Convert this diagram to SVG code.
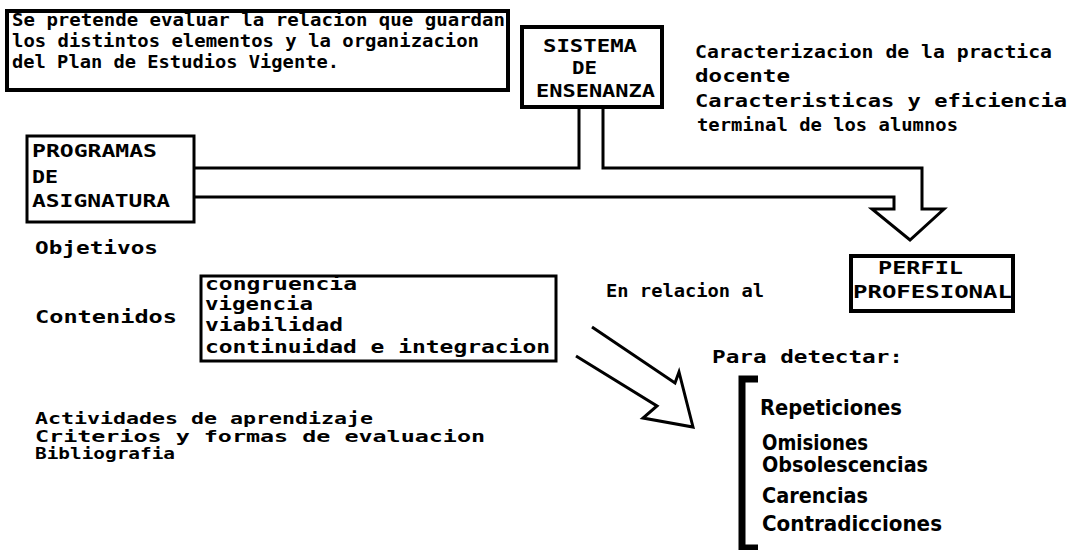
<svg xmlns="http://www.w3.org/2000/svg" width="1070" height="550" viewBox="0 0 1070 550">
<style>
.bx{fill:none;stroke:#000;stroke-width:4}
.bt{fill:none;stroke:#000;stroke-width:3}
.ln{fill:none;stroke:#000;stroke-width:3;stroke-linejoin:miter}
.t{font-family:"DejaVu Sans Mono","Liberation Mono",monospace;font-weight:bold;font-size:18px;fill:#000}
.w{font-family:"DejaVu Sans Mono","Liberation Mono",monospace;font-weight:bold;font-size:17px;fill:#000}
.a{font-family:"DejaVu Sans Mono","Liberation Mono",monospace;font-weight:bold;font-size:16px;fill:#000}
.c{font-family:"DejaVu Sans Condensed","DejaVu Sans",sans-serif;font-stretch:condensed;font-weight:bold;font-size:21px;fill:#000}
</style>
<rect width="1070" height="550" fill="#fff"/>
<g id="intro">
<rect class="bx" x="7" y="11" width="501" height="79"/>
<text class="t" x="12" y="26" textLength="493" lengthAdjust="spacingAndGlyphs">Se pretende evaluar la relacion que guardan</text>
<text class="t" x="12" y="47" textLength="467" lengthAdjust="spacingAndGlyphs">los distintos elementos y la organizacion</text>
<text class="t" x="12" y="68" textLength="327" lengthAdjust="spacingAndGlyphs">del Plan de Estudios Vigente.</text>
</g>
<g id="sistema">
<rect class="bx" x="522" y="27" width="140" height="80"/>
<text class="t" x="543" y="52" textLength="94" lengthAdjust="spacingAndGlyphs">SISTEMA</text>
<text class="t" x="572" y="74" textLength="25" lengthAdjust="spacingAndGlyphs">DE</text>
<text class="t" x="536" y="97" textLength="119" lengthAdjust="spacingAndGlyphs">ENSENANZA</text>
</g>
<g id="caracterizacion">
<text class="t" x="695" y="58" textLength="357" lengthAdjust="spacingAndGlyphs">Caracterizacion de la practica</text>
<text class="t" x="695" y="82" textLength="95" lengthAdjust="spacingAndGlyphs">docente</text>
<text class="t" x="695" y="107" textLength="372" lengthAdjust="spacingAndGlyphs">Caracteristicas y eficiencia</text>
<text class="t" x="697" y="131" textLength="261" lengthAdjust="spacingAndGlyphs">terminal de los alumnos</text>
</g>
<g id="programas">
<rect class="bt" x="27" y="136" width="167" height="86"/>
<text class="t" x="32" y="157" textLength="125" lengthAdjust="spacingAndGlyphs">PROGRAMAS</text>
<text class="t" x="32" y="183" textLength="26" lengthAdjust="spacingAndGlyphs">DE</text>
<text class="t" x="32" y="207" textLength="138" lengthAdjust="spacingAndGlyphs">ASIGNATURA</text>
</g>
<g id="perfil">
<rect class="bx" x="851" y="256" width="162" height="55"/>
<text class="t" x="878" y="274" textLength="85" lengthAdjust="spacingAndGlyphs">PERFIL</text>
<text class="t" x="853" y="298" textLength="159" lengthAdjust="spacingAndGlyphs">PROFESIONAL</text>
</g>
<g id="aspectos">
<text class="w" x="35" y="254" textLength="123" lengthAdjust="spacingAndGlyphs">Objetivos</text>
<text class="w" x="35" y="323" textLength="142" lengthAdjust="spacingAndGlyphs">Contenidos</text>
<text class="a" x="35" y="424" textLength="338" lengthAdjust="spacingAndGlyphs">Actividades de aprendizaje</text>
<text class="a" x="35" y="442" textLength="450" lengthAdjust="spacingAndGlyphs">Criterios y formas de evaluacion</text>
<text class="a" x="35" y="459" textLength="140" lengthAdjust="spacingAndGlyphs">Bibliografia</text>
</g>
<g id="contenidos">
<rect class="bt" x="201" y="276" width="355" height="85"/>
<text class="w" x="205" y="290" textLength="152" lengthAdjust="spacingAndGlyphs">congruencia</text>
<text class="w" x="205" y="310" textLength="108" lengthAdjust="spacingAndGlyphs">vigencia</text>
<text class="w" x="205" y="331" textLength="138" lengthAdjust="spacingAndGlyphs">viabilidad</text>
<text class="w" x="205" y="353" textLength="345" lengthAdjust="spacingAndGlyphs">continuidad e integracion</text>
</g>
<g id="relacion">
<text class="t" x="606" y="297" font-size="16" textLength="158" lengthAdjust="spacingAndGlyphs">En relacion al</text>
</g>
<g id="detectar">
<text class="w" x="712" y="363" textLength="191" lengthAdjust="spacingAndGlyphs">Para detectar:</text>
<path d="M758,379 H742 V548 H758" fill="none" stroke="#000" stroke-width="7"/>
<text class="c" x="760" y="415" textLength="142" lengthAdjust="spacingAndGlyphs">Repeticiones</text>
<text class="c" x="762" y="450" textLength="106" lengthAdjust="spacingAndGlyphs">Omisiones</text>
<text class="c" x="762" y="472" textLength="166" lengthAdjust="spacingAndGlyphs">Obsolescencias</text>
<text class="c" x="762" y="503" textLength="106" lengthAdjust="spacingAndGlyphs">Carencias</text>
<text class="c" x="762" y="531" textLength="180" lengthAdjust="spacingAndGlyphs">Contradicciones</text>
</g>
<g id="connectors">
<path class="ln" d="M194,168 H579 V107"/>
<path class="ln" d="M603,107 V168 H922 V209 H944 L910,240 L872,209 H894 V197 H194"/>
<path class="ln" stroke-width="2.5" d="M592,327 L675,383 L679,372 L693,427 L643,418 L657,406 L576,356"/>
</g>
</svg>
